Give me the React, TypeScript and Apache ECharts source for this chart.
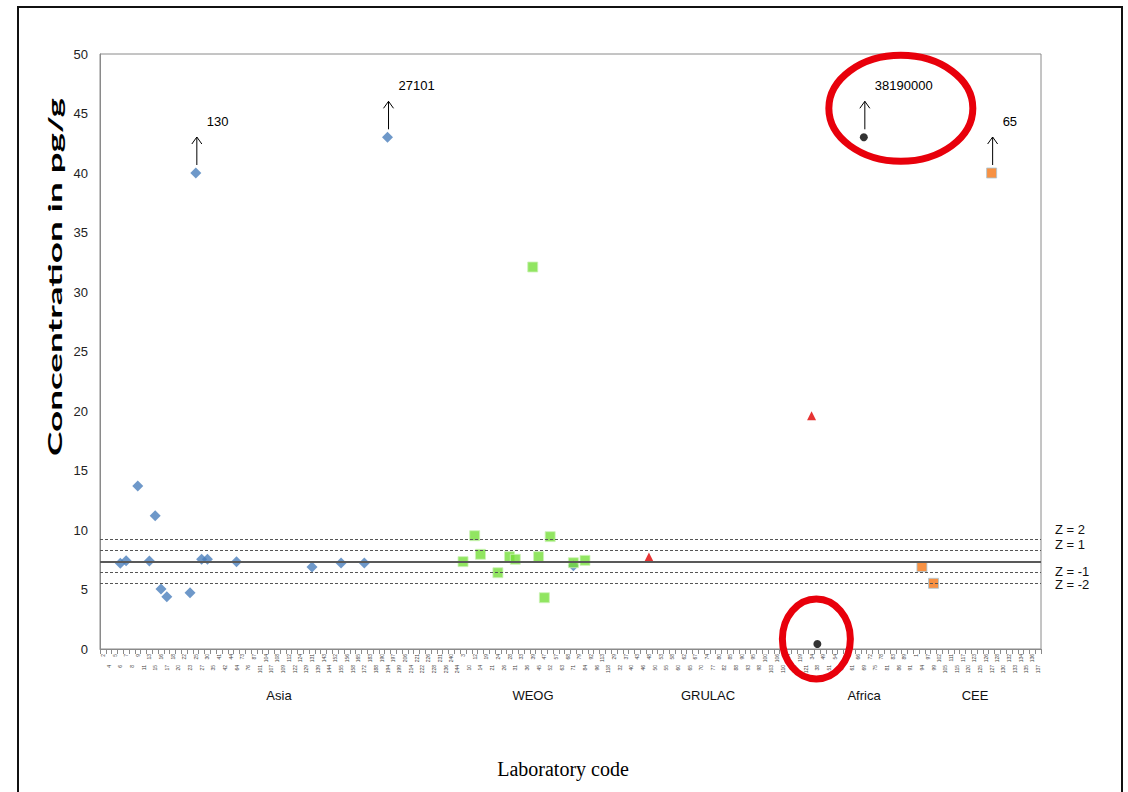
import React, { useEffect, useRef } from "react";
import * as echarts from "echarts";

// Laboratory codes per region (x-axis categories)
const asiaLabs = ["2","4","5","6","7","8","9","11","13","15","16","17","18","20","22","23","25","27","30","35","41","42","44","64","73","76","87","101","104","107","108","109","112","122","124","129","131","139","143","144","152","155","156","158","165","172","183","188","190","194","197","199","206","214","221","222","226","228","231","236","240","244"];
const weogLabs = ["3","10","12","14","19","21","24","26","28","31","33","36","39","45","47","52","57","63","68","71","79","84","92","96","113","118"];
const grulacLabs = ["29","32","37","40","43","46","48","50","53","55","58","60","62","65","67","70","74","77","80","82","85","88","90","93","95","98","100","103","106","110","114","116","119","121"];
const africaLabs = ["34","38","49","51","54","56","59","61","66","69","72","75","78","81","83","86","89","91"];
const ceeLabs = ["1","94","97","99","102","105","111","115","117","120","123","125","126","127","128","130","132","133","134","135","136","137"];
const regions = ["Asia", "WEOG", "GRULAC", "Africa", "CEE"];

// [category index, concentration pg/g]
const asiaPoints = [[3,7.2],[4,7.42],[6,13.7],[8,7.39],[9,11.2],[10,5.04],[11,4.39],[15,4.73],[16,40],[17,7.54],[18,7.54],[23,7.34],[36,6.9],[41,7.23],[45,7.23],[49,43],[81,7.0]];
const weogPoints = [[62,7.34],[64,9.52],[65,7.96],[68,6.41],[70,7.76],[71,7.54],[74,32.1],[75,7.76],[76,4.31],[77,9.44],[81,7.25],[83,7.45]];
const redPoints = [[94,7.73],[122,19.6]];
const blackPoints = [[123,0.42],[131,43]];
const ceePoints = [[141,6.92],[143,5.52],[153,40]];

// assigned value and z-score lines
const zLines = [
  { label: "Z = 2", value: 9.19, dashed: true, dy: -10 },
  { label: "Z = 1", value: 8.27, dashed: true, dy: -6 },
  { label: "", value: 7.35, dashed: false, dy: 0 },
  { label: "Z = -1", value: 6.43, dashed: true, dy: -1 },
  { label: "Z = -2", value: 5.51, dashed: true, dy: 1 },
];

// outliers shown at top with their real value
const outliers = [
  { idx: 16, val: 40, text: "130" },
  { idx: 49, val: 43, text: "27101" },
  { idx: 131, val: 43, text: "38190000" },
  { idx: 153, val: 40, text: "65" },
];

const regionLabelX = [279, 533, 708, 864, 975];

export default function App() {
  const ref = useRef<HTMLDivElement>(null);
  useEffect(() => {
    if (!ref.current) return;
    const chart = echarts.init(ref.current, null, { renderer: "svg" });
    const labs = [...asiaLabs, ...weogLabs, ...grulacLabs, ...africaLabs, ...ceeLabs];
    const option: any = {
      animation: false,
      backgroundColor: "#fff",
      grid: { left: 100, right: 87, top: 54, bottom: 143, show: true, borderColor: "#8a8a8a", borderWidth: 1 },
      xAxis: {
        type: "category",
        data: labs,
        boundaryGap: true,
        axisLine: { show: true, lineStyle: { color: "#8a8a8a" } },
        axisTick: { show: true, length: 5, lineStyle: { color: "#8a8a8a" }, interval: 0 },
        axisLabel: {
          rotate: 90,
          interval: 0,
          margin: 5,
          fontSize: 5,
          color: "#444",
          fontFamily: "Liberation Sans",
          formatter: (v: string, i: number) => (i % 2 === 0 ? `{a|${v}}` : `{a|${v}}{s|}`),
          rich: {
            a: { fontSize: 5, color: "#444", fontFamily: "Liberation Sans" },
            s: { width: 11, fontSize: 5 },
          },
        },
        splitLine: { show: false },
      },
      yAxis: {
        type: "value",
        min: 0,
        max: 50,
        interval: 5,
        axisLine: { show: true, lineStyle: { color: "#8a8a8a" } },
        axisTick: { show: false },
        splitLine: { show: false },
        axisLabel: { color: "#222", fontSize: 13, fontFamily: "Liberation Sans", margin: 12 },
      },
      series: [
        {
          type: "scatter",
          data: [],
          markLine: {
            silent: true,
            symbol: "none",
            label: { show: false },
            data: zLines.map((z) => ({
              yAxis: z.value,
              lineStyle: z.dashed
                ? { type: [3, 2], color: "#555", width: 1 }
                : { type: "solid", color: "#595959", width: 2 },
            })),
          },
        },
        { type: "scatter", symbol: "diamond", symbolSize: 11, data: asiaPoints, itemStyle: { color: "#4A7EBB" } },
        { type: "scatter", symbol: "rect", symbolSize: 10, data: weogPoints, itemStyle: { color: "#76DF3A", borderColor: "#cdf2b8", borderWidth: 1 } },
        { type: "scatter", symbol: "triangle", symbolSize: 9, data: redPoints, itemStyle: { color: "#E00000" } },
        { type: "scatter", symbol: "circle", symbolSize: 8, data: blackPoints, itemStyle: { color: "#000" } },
        { type: "scatter", symbol: "rect", symbolSize: 10, data: ceePoints, itemStyle: { color: "#F57514", borderColor: "#a9c6d6", borderWidth: 1 } },
      ],
    };
    chart.setOption(option);

    const px = (i: number, v: number) => chart.convertToPixel({ seriesIndex: 1 }, [i, v]) as number[];
    const graphics: any[] = [];
    graphics.push({
      type: "rect",
      shape: { x: 18, y: 7, width: 1104, height: 800 },
      style: { fill: "none", stroke: "#111", lineWidth: 2 },
      z: 10,
    });
    // y axis title, stretched along its length like the reference
    const title = "Concentration in pg/g";
    const titleFont = "bold 18px Lato";
    let tw = 200;
    try {
      const ctx = document.createElement("canvas").getContext("2d");
      if (ctx) { ctx.font = titleFont; tw = ctx.measureText(title).width; }
    } catch (e) {}
    graphics.push({
      type: "text",
      x: 55,
      y: 277,
      rotation: Math.PI / 2,
      scaleX: 358 / tw,
      style: { text: title, font: titleFont, fill: "#000", textAlign: "center", textVerticalAlign: "middle" },
    });
    graphics.push({
      type: "text",
      x: 563,
      y: 769,
      style: { text: "Laboratory code", font: "20px 'Liberation Serif'", fill: "#000", textAlign: "center", textVerticalAlign: "middle" },
    });
    regions.forEach((r, k) => {
      graphics.push({
        type: "text",
        x: regionLabelX[k],
        y: 695,
        style: { text: r, font: "13px 'Liberation Sans'", fill: "#111", textAlign: "center", textVerticalAlign: "middle" },
      });
    });
    zLines.forEach((z) => {
      if (!z.label) return;
      const p = px(0, z.value);
      graphics.push({
        type: "text",
        x: 1055,
        y: p[1] + z.dy,
        style: { text: z.label, font: "13px 'Liberation Sans'", fill: "#111", textAlign: "left", textVerticalAlign: "middle" },
      });
    });
    outliers.forEach((o) => {
      const p = px(o.idx, o.val);
      const ax = p[0] + 1;
      const bottom = p[1] - 8;
      const top = p[1] - 36;
      graphics.push({ type: "line", shape: { x1: ax, y1: bottom, x2: ax, y2: top }, style: { stroke: "#000", lineWidth: 1 } });
      graphics.push({ type: "polyline", shape: { points: [[ax - 5, top + 7], [ax, top], [ax + 5, top + 7]] }, style: { stroke: "#000", lineWidth: 1, fill: "none" } });
      graphics.push({
        type: "text",
        x: p[0] + 11,
        y: p[1] - 52,
        style: { text: o.text, font: "13px 'Liberation Sans'", fill: "#000", textAlign: "left", textVerticalAlign: "middle" },
      });
    });
    // red highlight ellipses around the Africa flagged results
    const e1 = px(blackPoints[1][0], blackPoints[1][1]);
    const e2 = px(blackPoints[0][0], blackPoints[0][1]);
    graphics.push({ type: "ellipse", shape: { cx: e1[0] + 37, cy: e1[1] - 29, rx: 72, ry: 53 }, style: { fill: "none", stroke: "#E8000B", lineWidth: 7 }, z: 20 });
    graphics.push({ type: "ellipse", shape: { cx: e2[0] - 1, cy: e2[1] - 5, rx: 34, ry: 40 }, style: { fill: "none", stroke: "#E8000B", lineWidth: 7 }, z: 20 });
    chart.setOption({ graphic: graphics });

    return () => chart.dispose();
  }, []);
  return <div ref={ref} style={{ position: "fixed", left: 0, top: 0, width: 1128, height: 792 }} />;
}
